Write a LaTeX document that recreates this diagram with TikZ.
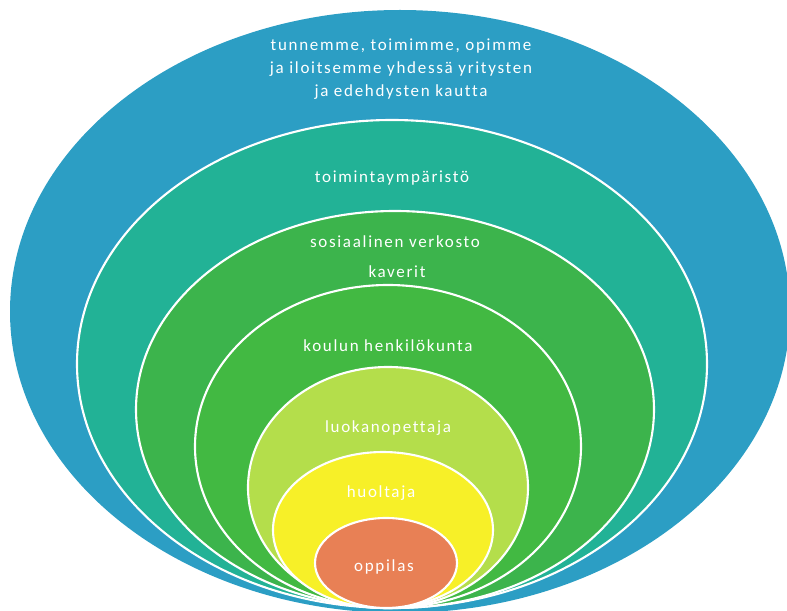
\documentclass[tikz,border=0pt]{standalone}
\usepackage{fontspec}
\setmainfont[Ligatures=NoCommon]{Carlito}
\definecolor{ringA}{HTML}{2C9EC4}
\definecolor{ringB}{HTML}{22B296}
\definecolor{ringC}{HTML}{3CB44C}
\definecolor{ringD}{HTML}{42B942}
\definecolor{ringE}{HTML}{B4DE4B}
\definecolor{ringF}{HTML}{F7F028}
\definecolor{ringG}{HTML}{E88055}
\tikzset{
	ring/.style={draw=white,line width=1.8pt},
	labl/.style={text=white,inner sep=1pt,align=center,
		font=\fontsize{14.5}{19.5}\selectfont\addfontfeature{LetterSpace=10}},
	}

\begin{document}
\begin{tikzpicture}[x=0.3mm,y=0.3mm]
 \useasboundingbox (0,0) rectangle (787,611);
 % rings, outermost first
 \fill[ringA] (400,299.5) ellipse [x radius=390, y radius=301.5];
 \foreach \cx/\cy/\rx/\ry/\col in {392/247/315/244/ringB,
   395/201.5/259/198.5/ringC, 388/164.5/193/161.5/ringD,
   388/123.5/140/120.5/ringE, 383/81/110/78/ringF, 386/48/71/45/ringG}
  \draw[ring,fill=\col] (\cx,\cy) ellipse [x radius=\rx, y radius=\ry];

\node (yhteiso) at (401,542) [labl] {tunnemme, toimimme, opimme\\ja iloitsemme yhdessä yritysten\\ja edehdysten kautta};
\node (ymparisto) at (392,433) [labl] {toimintaympäristö};
\node (verkosto) at (395,369) [labl] {sosiaalinen verkosto};
\node (kaverit) at (397,339) [labl] {kaverit};
\node (koulu) at (388,265) [labl] {koulun henkilökunta};
\node (opettaja) at (388,183) [labl] {luokanopettaja};
\node (huoltaja) at (381,118) [labl] {huoltaja};
\node (oppilas) at (384,44) [labl] {oppilas};
\end{tikzpicture}
\end{document}
